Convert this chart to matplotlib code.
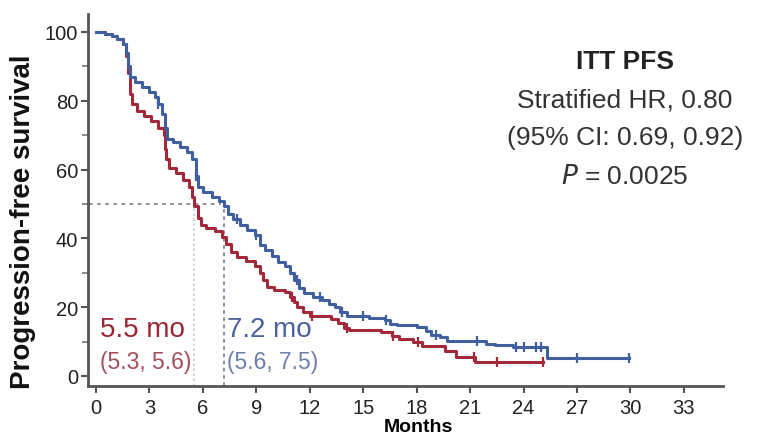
import numpy as np
import matplotlib
matplotlib.use("Agg")
import matplotlib.pyplot as plt

plt.rcParams['font.family'] = ['Liberation Sans', 'DejaVu Sans']

# Kaplan-Meier steps (months, % progression-free)
blue_t = [0, 0.5, 0.9, 1.2, 1.5, 1.7, 1.8, 1.9, 2.2, 2.6, 3.0, 3.3, 3.5, 3.7, 3.9, 4.0, 4.3, 4.7,
          5.1, 5.4, 5.6, 5.7, 6.0, 6.5, 6.9, 7.2, 7.4, 7.7, 8.1, 8.5, 8.9, 9.2, 9.5, 9.9, 10.2,
          10.6, 10.9, 11.1, 11.4, 11.7, 12.2, 12.7, 13.1, 13.4, 13.7, 14.1, 15.3, 16.2, 16.5,
          16.9, 18.0, 18.5, 18.8, 19.3, 19.7, 21.9, 22.4, 23.4, 25.3, 29.9]
blue_s = [100, 99.5, 98.8, 98, 96.5, 94, 90, 87, 85.5, 84, 82.5, 81, 79, 76, 72, 69, 68, 66.5,
          65, 63, 58, 55, 53.5, 52, 51, 49.5, 47, 45.5, 44, 42.5, 41, 38, 36.5, 35, 33,
          32, 30, 28, 25.5, 24, 23, 22, 21, 20, 18.5, 17.5, 17, 16.2, 15.2,
          14.8, 14.3, 13, 12, 11.2, 10.2, 9.4, 8.9, 8.4, 5.2, 5.2]

red_t = [0, 0.5, 0.9, 1.2, 1.5, 1.7, 1.8, 1.9, 2.0, 2.3, 2.7, 3.1, 3.5, 3.8, 3.85, 3.95, 4.1,
         4.5, 4.9, 5.2, 5.4, 5.5, 5.7, 5.9, 6.2, 6.7, 7.1, 7.3, 7.6, 7.9, 8.4, 8.9, 9.2, 9.4,
         9.6, 10.0, 10.6, 10.9, 11.1, 11.3, 11.6, 12.0, 13.2, 13.6, 13.9, 14.2, 16.0, 16.6,
         17.0, 17.8, 18.3, 19.6, 20.2, 21.3, 25.1]
red_s = [100, 99.5, 98.8, 98, 96.5, 93, 88, 82, 79, 77, 75.5, 74, 72, 70, 66, 63, 60.5,
         59, 57, 55, 52, 49.5, 46, 44, 43, 42, 40.5, 38.5, 36, 34.5, 33.5, 32, 30, 28,
         26, 25, 24.5, 23, 21.5, 20, 18.5, 17.5, 16.5, 15.5, 14, 13.3, 12.8, 11.5,
         10.8, 9.9, 8.7, 7.3, 5.5, 4.1, 4.1]

# censored observations (months)
blue_cens = [3.5, 5.6, 7.9, 9.0, 11.3, 12.6, 13.8, 15.0, 16.3, 19.1, 21.4, 23.6, 24.0, 24.7,
             25.0, 27.0, 29.9]
red_cens = [11.0, 12.1, 14.1, 16.7, 18.1, 21.2, 22.5, 25.1]

medians = [5.5, 7.2]

BLUE = "#3f5f9e"
RED = "#a2283a"


def level_at(t, s, x):
    idx = np.searchsorted(t, x, side='right') - 1
    return np.array(s)[idx]


fig = plt.figure(figsize=(7.76, 4.39), dpi=100)
ax = fig.add_axes([0.1134, 0.1185, 0.8183, 0.8473])

# median guide lines
ax.plot([-0.4, 7.0], [50, 50], color="#8a8a8a", lw=1.3, ls=(0, (2, 2.5)))
ax.plot([medians[0], medians[0]], [-2.9, 50], color="#cfcfcf", lw=1.2, ls=(0, (1.5, 1.5)))
ax.plot([medians[1], medians[1]], [-2.9, 50], color="#7888aa", lw=1.3, ls=(0, (2, 2)))

ax.step(red_t, red_s, where='post', color=RED, lw=2.2)
ax.step(blue_t, blue_s, where='post', color=BLUE, lw=2.2)
ax.plot(red_cens, level_at(red_t, red_s, red_cens), ls='none', marker='|',
        ms=7, mew=1.6, color=RED)
ax.plot(blue_cens, level_at(blue_t, blue_s, blue_cens), ls='none', marker='|',
        ms=7, mew=1.6, color=BLUE)

ax.set_xlim(-0.45, 35.2)
ax.set_ylim(-2.9, 105.2)
ax.set_xticks(np.arange(0, 34, 3))
ax.set_yticks(np.arange(0, 101, 20))
ax.set_yticks(np.arange(10, 100, 20), minor=True)
for side in ['top', 'right']:
    ax.spines[side].set_visible(False)
for side in ['left', 'bottom']:
    ax.spines[side].set_color("#555555")
    ax.spines[side].set_linewidth(2)
ax.tick_params(axis='both', which='major', labelsize=14.5, length=5, width=1.5,
               color="#555555", labelcolor="#222222", pad=2)
ax.tick_params(axis='x', which='major', pad=4)
ax.tick_params(axis='y', which='minor', length=4, width=1.2, color="#777777")

ax.set_xlabel("Months", fontsize=14, fontweight='bold')
ax.xaxis.set_label_coords(0.52, -0.085)
fig.text(0.03, 0.494, "Progression-free survival", fontsize=20, fontweight='bold',
         rotation=90, ha='center', va='center', color="#111111")

# median annotations
ax.text(0.25, 13.7, "5.5 mo", color="#9b2535", fontsize=20, va='center', ha='left')
ax.text(0.25, 4.3, "(5.3, 5.6)", color="#a0505c", fontsize=16.5, va='center', ha='left')
ax.text(7.35, 13.7, "7.2 mo", color="#4a619c", fontsize=20, va='center', ha='left')
ax.text(7.35, 4.3, "(5.6, 7.5)", color="#6e7fa8", fontsize=16.5, va='center', ha='left')

# statistics block
ax.text(29.7, 91.6, "ITT PFS", fontsize=19, fontweight='bold', ha='center', va='center',
        color="#222222")
ax.text(29.7, 80.5, "Stratified HR, 0.80", fontsize=19, ha='center', va='center',
        color="#333333")
ax.text(29.7, 69.5, "(95% CI: 0.69, 0.92)", fontsize=19, ha='center', va='center',
        color="#333333")
ax.text(29.7, 58.1, "$P$ = 0.0025", fontsize=19, ha='center', va='center',
        color="#333333")

fig.savefig("out.png", dpi=100)
